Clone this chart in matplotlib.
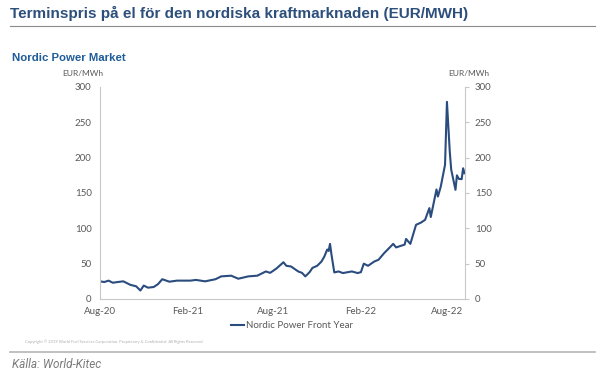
import matplotlib.pyplot as plt
import pandas as pd

# values (EUR/MWh)
dates = ['2020-08-01', '2020-08-10', '2020-08-19', '2020-08-28', '2020-09-07', '2020-09-19',
         '2020-10-04', '2020-10-16', '2020-10-25', '2020-11-01', '2020-11-10', '2020-11-22',
         '2020-12-01', '2020-12-10', '2020-12-25', '2021-01-10', '2021-01-25', '2021-02-07',
         '2021-02-19', '2021-03-10', '2021-04-01', '2021-04-13', '2021-05-04', '2021-05-19',
         '2021-06-09', '2021-06-28', '2021-07-16', '2021-07-25', '2021-08-07', '2021-08-22',
         '2021-08-28', '2021-09-07', '2021-09-22', '2021-09-30', '2021-10-07', '2021-10-16',
         '2021-10-22', '2021-11-01', '2021-11-10', '2021-11-16', '2021-11-22', '2021-11-25',
         '2021-11-28', '2021-12-01', '2021-12-07', '2021-12-16', '2021-12-25', '2022-01-13',
         '2022-01-25', '2022-02-01', '2022-02-07', '2022-02-16', '2022-03-01', '2022-03-10',
         '2022-03-22', '2022-04-10', '2022-04-16', '2022-04-25', '2022-05-04', '2022-05-07',
         '2022-05-16', '2022-05-28', '2022-06-07', '2022-06-16', '2022-06-25', '2022-06-28',
         '2022-07-10', '2022-07-13', '2022-07-19', '2022-07-28', '2022-08-01', '2022-08-07',
         '2022-08-10', '2022-08-19', '2022-08-22', '2022-08-26', '2022-09-01', '2022-09-04',
         '2022-09-07']
prices = [25, 24, 26, 23, 24, 25,
          20, 18, 12, 19, 16, 17,
          21, 28, 24.5, 26, 26, 26,
          27, 25, 28, 32, 33, 28.7,
          32, 33, 39, 37, 43, 52,
          47, 46, 39, 37, 32, 38,
          44, 47, 53, 60, 70, 68,
          78, 63, 37.6, 39, 36.7, 39,
          36.7, 38, 50, 47, 53, 55.5,
          65, 78, 73, 75, 77, 85,
          78, 105, 108, 112, 128.6, 116,
          155, 145, 159, 190, 279, 208,
          183, 154.5, 175, 170, 169.6, 185,
          178]

tick_dates = ['2020-08-01', '2021-02-01', '2021-08-01', '2022-02-01', '2022-08-01']
tick_labels = ['Aug-20', 'Feb-21', 'Aug-21', 'Feb-22', 'Aug-22']
yticks = [0, 50, 100, 150, 200, 250, 300]

x = pd.to_datetime(dates)
grey = '#595959'
plt.rcParams['font.family'] = ['Lato', 'DejaVu Sans']

fig = plt.figure(figsize=(6, 3.72), dpi=100)
ax = fig.add_axes([100/600, 1-299/372, 365/600, 212/372])
ax.plot(x, prices, color='#2b4c7e', linewidth=1.5, label='Nordic Power Front Year')
ax.set_xlim(pd.Timestamp('2020-08-01'), pd.Timestamp('2022-09-08'))
ax.set_ylim(0, 300)
ax.set_yticks(yticks)
ax.set_xticks(pd.to_datetime(tick_dates))
ax.set_xticklabels(tick_labels)
ax.tick_params(colors=grey, labelsize=7, length=0, pad=6)
for s in ['top', 'right']:
    ax.spines[s].set_visible(False)
for s in ['left', 'bottom']:
    ax.spines[s].set_color('#c8c8c8')

# right hand axis repeats the scale
ax2 = ax.twinx()
ax2.set_ylim(0, 300)
ax2.set_yticks(yticks)
ax2.tick_params(colors=grey, labelsize=7, length=3, pad=4)
ax2.tick_params(axis='y', color='#c8c8c8')
for s in ['top', 'left', 'bottom']:
    ax2.spines[s].set_visible(False)
ax2.spines['right'].set_color('#c8c8c8')

fig.text(83/600, 1-74/372, 'EUR/MWh', fontsize=6, color=grey, ha='center', va='center')
fig.text(469/600, 1-74/372, 'EUR/MWh', fontsize=6, color=grey, ha='center', va='center')

ax.legend(loc='center', bbox_to_anchor=(292/600, 1-326/372), bbox_transform=fig.transFigure,
          frameon=False, fontsize=7, handlelength=1.3, handletextpad=0.2, labelcolor=grey)

fig.text(10/600, 1-13/372, 'Terminspris på el för den nordiska kraftmarknaden (EUR/MWH)',
         fontsize=11, fontweight='bold', color='#2d4f7c', va='center', family='Liberation Sans')
fig.add_artist(plt.Line2D([10/600, 595/600], [1-26/372, 1-26/372], color='#8a8a8a', lw=0.8))
fig.text(12/600, 1-58/372, 'Nordic Power Market', fontsize=8.2, fontweight='bold',
         color='#1f5c99', va='center', family='Liberation Sans')
fig.text(25/600, 1-342/372,
         'Copyright © 2019 World Fuel Services Corporation. Proprietary & Confidential. All Rights Reserved.',
         fontsize=3, color='#b0b0b0', va='center')
fig.add_artist(plt.Line2D([10/600, 595/600], [1-352/372, 1-352/372], color='#b5b5b5', lw=1.2))
fig.text(12/600, 1-364/372, 'Källa: World-Kitec', fontsize=8.5, style='italic', color='#7a7a7a',
         va='center', family='Roboto')

fig.savefig('out.png', dpi=100)
